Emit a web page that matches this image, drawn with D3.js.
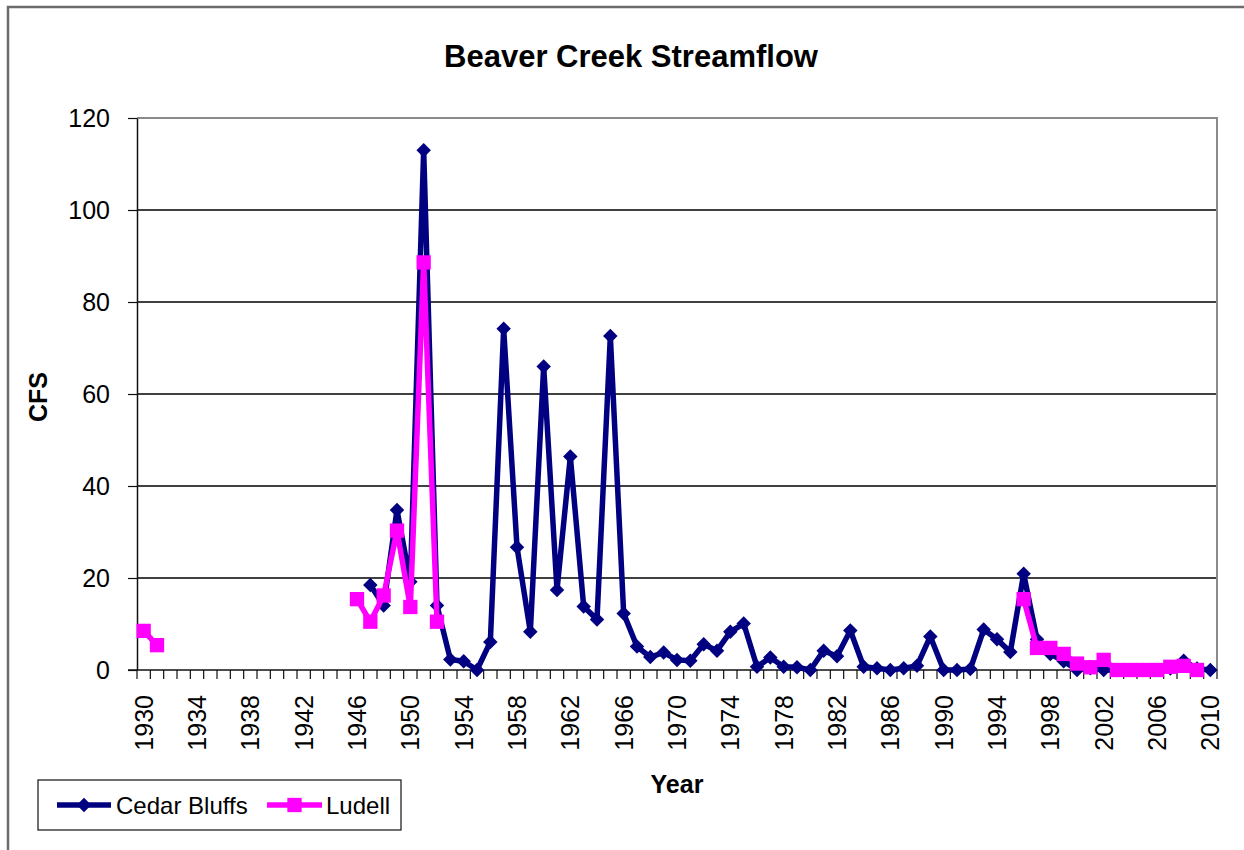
<!DOCTYPE html>
<html>
<head>
<meta charset="utf-8">
<script src="https://cdn.jsdelivr.net/npm/d3@7.9.0/dist/d3.min.js"></script>
<style>
  body { margin: 0; background: #fff; }
  svg { display: block; font-family: "Liberation Sans", Arial, sans-serif; }
</style>
</head>
<body>
<svg id="chart" width="1244" height="850"></svg>
<script>
// categories (one per year)
const years = [
  1930, 1931, 1932, 1933, 1934, 1935, 1936, 1937, 1938, 1939,
  1940, 1941, 1942, 1943, 1944, 1945, 1946, 1947, 1948, 1949,
  1950, 1951, 1952, 1953, 1954, 1955, 1956, 1957, 1958, 1959,
  1960, 1961, 1962, 1963, 1964, 1965, 1966, 1967, 1968, 1969,
  1970, 1971, 1972, 1973, 1974, 1975, 1976, 1977, 1978, 1979,
  1980, 1981, 1982, 1983, 1984, 1985, 1986, 1987, 1988, 1989,
  1990, 1991, 1992, 1993, 1994, 1995, 1996, 1997, 1998, 1999,
  2000, 2001, 2002, 2003, 2004, 2005, 2006, 2007, 2008, 2009,
  2010
];

// CFS, one value per year above (null = no record)
const cedarBluffs = [
  null, null, null, null, null, null, null, null, null, null,
  null, null, null, null, null, null, null, 18.5, 14.0, 34.8,
  19.2, 113.0, 14.0, 2.3, 1.9, 0, 6.1, 74.2, 26.7, 8.3,
  66.0, 17.4, 46.4, 13.8, 11.0, 72.6, 12.3, 5.1, 2.8, 3.8,
  2.2, 2.0, 5.6, 4.2, 8.3, 10.1, 0.7, 2.7, 0.7, 0.6,
  0, 4.2, 3.0, 8.6, 0.7, 0.4, 0, 0.4, 0.9, 7.3,
  0, 0, 0.2, 8.8, 6.7, 3.9, 20.9, 6.7, 3.5, 1.9,
  0, 0.4, 0, 0, 0, 0, 0, 0.3, 2.0, 0.3,
  0
];

const ludell = [
  8.5, 5.4, null, null, null, null, null, null, null, null,
  null, null, null, null, null, null, 15.4, 10.5, 16.2, 30.3,
  13.7, 88.6, 10.5, null, null, null, null, null, null, null,
  null, null, null, null, null, null, null, null, null, null,
  null, null, null, null, null, null, null, null, null, null,
  null, null, null, null, null, null, null, null, null, null,
  null, null, null, null, null, null, 15.4, 4.8, 4.8, 3.5,
  1.4, 0.6, 2.2, 0, 0, 0, 0, 0.7, 0.9, 0
];

const yTicks = [0, 20, 40, 60, 80, 100, 120];

const svg = d3.select('#chart');

// outer chart frame (runs off the right and bottom of the picture)
svg.append('rect')
  .attr('x', 8).attr('y', 7)
  .attr('width', 1260).attr('height', 870)
  .attr('fill', '#fff')
  .attr('stroke', '#6b6b6b')
  .attr('stroke-width', 2.5);

const plot = { left: 137, right: 1217, top: 118, bottom: 670 };

const x = d3.scaleBand()
  .domain(years)
  .range([plot.left, plot.right]);

const y = d3.scaleLinear()
  .domain([0, 120])
  .range([plot.bottom, plot.top]);

const cx = (yr) => x(yr) + x.bandwidth() / 2;

// gridlines
svg.append('g')
  .selectAll('line')
  .data(yTicks.filter((t) => t > 0 && t < 120))
  .join('line')
  .attr('x1', plot.left).attr('x2', plot.right)
  .attr('y1', (d) => y(d)).attr('y2', (d) => y(d))
  .attr('stroke', '#000')
  .attr('stroke-width', 1.3);

// plot area border (top + right in gray)
svg.append('path')
  .attr('d', `M${plot.left},${y(120)}H${plot.right}V${plot.bottom}`)
  .attr('fill', 'none')
  .attr('stroke', '#8a8a8a')
  .attr('stroke-width', 2);

// y axis
const yAxis = svg.append('g')
  .attr('transform', `translate(${plot.left},0)`)
  .call(d3.axisLeft(y).tickValues(yTicks).tickSize(9).tickPadding(18).tickSizeOuter(0));
yAxis.select('.domain').attr('stroke', '#111').attr('stroke-width', 1.5);
yAxis.selectAll('.tick line').attr('stroke', '#111').attr('stroke-width', 1.2);
yAxis.selectAll('text')
  .attr('font-size', 25)
  .attr('font-family', '"Liberation Sans", Arial, sans-serif')
  .attr('fill', '#000');

// x axis: labels every 4 years, rotated
const xAxis = svg.append('g')
  .attr('transform', `translate(0,${plot.bottom})`)
  .call(d3.axisBottom(x).tickValues(years.filter((yr) => (yr - 1930) % 4 === 0)).tickSize(0));
xAxis.select('.domain').remove();
xAxis.selectAll('text')
  .attr('transform', 'rotate(-90)')
  .attr('x', -25)
  .attr('y', 0)
  .attr('dy', '0.36em')
  .style('text-anchor', 'end')
  .attr('font-size', 25)
  .attr('font-family', '"Liberation Sans", Arial, sans-serif')
  .attr('fill', '#000');

// x tick marks between every category
svg.append('g')
  .selectAll('line')
  .data(years.map((yr) => x(yr)).concat([plot.right]))
  .join('line')
  .attr('x1', (d) => d).attr('x2', (d) => d)
  .attr('y1', plot.bottom).attr('y2', plot.bottom + 9)
  .attr('stroke', '#111')
  .attr('stroke-width', 1.2);

svg.append('line')
  .attr('x1', plot.left - 9).attr('x2', plot.right)
  .attr('y1', plot.bottom).attr('y2', plot.bottom)
  .attr('stroke', '#111')
  .attr('stroke-width', 1.5);

// series
const series = [
  { name: 'Cedar Bluffs', values: cedarBluffs, color: '#000080', shape: 'diamond' },
  { name: 'Ludell', values: ludell, color: '#ff00ff', shape: 'square' }
];

const line = d3.line()
  .defined((d) => d.v != null)
  .x((d) => cx(d.year))
  .y((d) => y(d.v));

const diamond = d3.symbol(d3.symbolSquare, 105);
const square = d3.symbol(d3.symbolSquare, 205);

series.forEach((s) => {
  const pts = years.map((yr, i) => ({ year: yr, v: s.values[i] }));
  svg.append('path')
    .datum(pts)
    .attr('d', line)
    .attr('fill', 'none')
    .attr('stroke', s.color)
    .attr('stroke-width', 5.5)
    .attr('stroke-linejoin', 'round');

  svg.append('g')
    .selectAll('path')
    .data(pts.filter((d) => d.v != null))
    .join('path')
    .attr('d', s.shape === 'diamond' ? diamond : square)
    .attr('transform', (d) => `translate(${cx(d.year)},${y(d.v)})` + (s.shape === 'diamond' ? ' rotate(45)' : ''))
    .attr('fill', s.color);
});

// title and axis titles
svg.append('text')
  .attr('x', 631).attr('y', 67)
  .attr('text-anchor', 'middle')
  .attr('font-size', 31)
  .attr('font-weight', 'bold')
  .text('Beaver Creek Streamflow');

svg.append('text')
  .attr('x', 677).attr('y', 793)
  .attr('text-anchor', 'middle')
  .attr('font-size', 25)
  .attr('font-weight', 'bold')
  .text('Year');

svg.append('text')
  .attr('transform', 'translate(47,397) rotate(-90)')
  .attr('text-anchor', 'middle')
  .attr('font-size', 25)
  .attr('font-weight', 'bold')
  .text('CFS');

// legend
const legend = svg.append('g');
legend.append('rect')
  .attr('x', 38).attr('y', 780)
  .attr('width', 363).attr('height', 50)
  .attr('fill', '#fff')
  .attr('stroke', '#111')
  .attr('stroke-width', 1.2);

const legendItems = [
  { s: series[0], x0: 57, x1: 111, tx: 116 },
  { s: series[1], x0: 267, x1: 322, tx: 326 }
];
legendItems.forEach((it) => {
  legend.append('line')
    .attr('x1', it.x0).attr('x2', it.x1)
    .attr('y1', 805).attr('y2', 805)
    .attr('stroke', it.s.color)
    .attr('stroke-width', 5.5);
  legend.append('path')
    .attr('d', it.s.shape === 'diamond' ? diamond : square)
    .attr('transform', `translate(${(it.x0 + it.x1) / 2},805)` + (it.s.shape === 'diamond' ? ' rotate(45)' : ''))
    .attr('fill', it.s.color);
  legend.append('text')
    .attr('x', it.tx).attr('y', 814)
    .attr('font-size', 24)
    .text(it.s.name);
});
</script>
</body>
</html>
